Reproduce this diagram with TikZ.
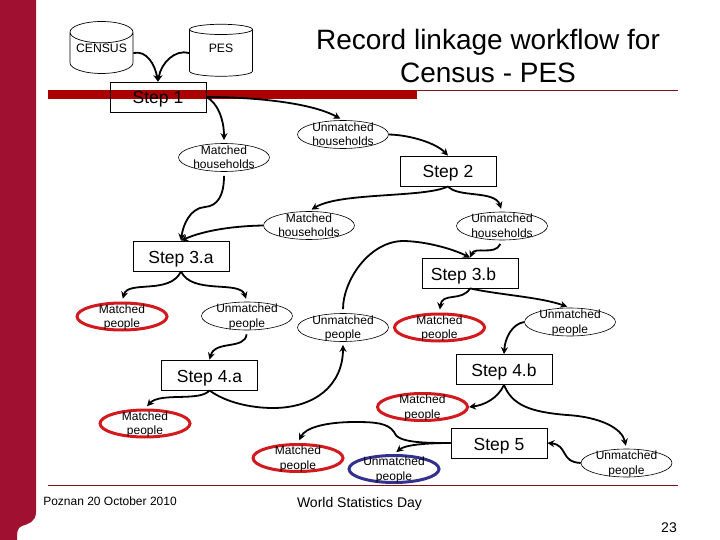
\documentclass[tikz,border=0pt]{standalone}
\usepackage{fontspec}
\setmainfont{Liberation Sans}
\usetikzlibrary{shapes.geometric, arrows.meta}
\definecolor{sidered}{RGB}{160,16,48}
\definecolor{barred}{RGB}{170,0,0}
\definecolor{linered}{RGB}{130,20,30}
\definecolor{ringred}{RGB}{210,25,30}
\definecolor{ringblue}{RGB}{50,50,140}
\def\two#1#2{\smash{\raisebox{-4pt}{\begin{tabular}{@{}c@{}}#1\\#2\end{tabular}}}}
\def\mid#1{\smash{\raisebox{0.5pt}{#1}}}
\tikzset{
  stepbox/.style={draw, line width=0.8pt, minimum width=96pt, minimum height=30pt, inner sep=0pt, text height=14pt, text depth=0pt, font=\fontsize{17.5}{18}\selectfont},
  oval/.style={draw, ellipse, line width=0.6pt, minimum width=91pt, minimum height=28pt, inner sep=0pt, font=\fontsize{12}{14.4}\selectfont},
  redoval/.style={oval, draw=ringred, line width=3pt, minimum width=90pt, minimum height=27pt},
  blueoval/.style={oval, draw=ringblue, line width=3pt, minimum width=90pt, minimum height=27pt},
  store/.style={draw, cylinder, shape border rotate=90, aspect=0.42, line width=0.7pt, minimum width=63pt, minimum height=52pt, inner sep=0pt, font=\fontsize{12.2}{14}\selectfont},
  link/.style={line width=1.8pt, -{Stealth[length=7pt,width=7pt]}},
  gap/.style={link, shorten >=3pt},
  leave/.style={shorten <=4pt}
}
\begin{document}
\begin{tikzpicture}[x=1pt,y=-1pt]
  \useasboundingbox (0,0) rectangle (720,540);
  % page furniture
  \fill[sidered] (0,0) -- (36,0) -- (36,512) .. controls (36,522) and (28,524) .. (22,526)
    .. controls (17,528) and (17,532) .. (17,540) -- (0,540) -- cycle;
  \fill[barred] (48,90) rectangle (417,99.5);
  \draw[linered, line width=0.7pt] (417,90.3) -- (678,90.3);
  \draw[linered, line width=0.7pt] (48,485.3) -- (678,485.3);
  \node[font=\fontsize{28}{33}\selectfont, align=center, inner sep=0pt] (title) at (488,56) {Record linkage workflow for\\Census - PES};
  \node[font=\fontsize{12}{14}\selectfont, inner sep=0pt] (place) at (110,501.5) {Poznan 20 October 2010};
  \node[font=\fontsize{14}{16}\selectfont, inner sep=0pt] (day) at (359.5,504) {World Statistics Day};
  \node[font=\fontsize{14}{16}\selectfont, inner sep=0pt] (page) at (669,528) {23};

  % sources
  \node[store] (census) at (101.5,53) {\mid{CENSUS}};
  \node[store] (pes) at (221,53) {\mid{PES}};

  % steps
  \foreach \n/\x/\y/\t in {s1/158/97/Step 1, s2/448/171/Step 2, s3a/181/256/Step 3.a,
      s3b/470/273/Step 3.b\kern13pt, s4a/209.5/375/Step 4.a, s4b/504/369.5/Step 4.b, s5/499/443/Step 5}{
    \node[stepbox] (\n) at (\x,\y) {\t};
  }

  % households
  \foreach \n/\x/\y/\a/\b in {mh1/224/157.5/Matched/households, uh1/343/134.5/Unmatched/households,
      mh2/309/225.5/Matched/households, uh2/502/226/Unmatched/households,
      up1/247/316/Unmatched/people, up2/343/327.5/Unmatched/people,
      up3/570/322/Unmatched/people, up4/626.5/463/Unmatched/people}{
    \node[oval] (\n) at (\x,\y) {\two{\a}{\b}};
  }
  \foreach \n/\x/\y in {mp1/122/316.5, mp2/439.5/327.5, mp3/145/423.5, mp4/298/458, mp5/422.5/407}{
    \node[redoval] (\n) at (\x,\y) {\two{Matched}{people}};
  }
  \node[blueoval] (up5) at (394,469) {\two{Unmatched}{people}};

  % connectors
  \draw[link] (census.east) .. controls (147,50) and (155,65) .. (s1.north);
  \draw[link] (pes.west) .. controls (175,49) and (161,63) .. (s1.north);
  \draw[gap] (s1.east) .. controls (218,103) and (224,120) .. (mh1.north);
  \draw[gap] (s1.east) .. controls (250,97) and (310,102) .. (uh1.north);
  \draw[link] (uh1.east) .. controls (410,135) and (436,143) .. (s2.north);
  \draw[link, leave] (mh1.south) .. controls (224,195) and (218,206) .. (205,207) .. controls (190,208) and (183,225) .. (s3a.north);
  \draw[link] (mh2.west) .. controls (235,226) and (205,230) .. (s3a.north);
  \draw[gap] (s2.south) .. controls (425,198) and (340,192) .. (mh2.north);
  \draw[gap] (s2.south) .. controls (458,198) and (495,190) .. (uh2.north);
  \draw[link, leave] (uh2.south) .. controls (495,256) and (475,246) .. (s3b.north);
  \draw[link, leave] (up2.north) .. controls (343,280) and (370,240) .. (405,241) .. controls (430,242) and (455,250) .. (s3b.north);
  \draw[gap] (s3a.south) .. controls (170,295) and (128,280) .. (mp1.north);
  \draw[gap] (s3a.south) .. controls (192,295) and (240,280) .. (up1.north);
  \draw[gap] (s3b.south) .. controls (462,302) and (442,292) .. (mp2.north);
  \draw[gap] (s3b.south) .. controls (500,295) and (540,297) .. (up3.north);
  \draw[link] (up3.west) .. controls (512,324) and (505,338) .. (s4b.north);
  \draw[link, leave] (up1.south) .. controls (245,350) and (215,340) .. (s4a.north);
  \draw[gap] (s4a.south) .. controls (200,402) and (160,392) .. (mp3.north);
  \draw[gap] (s4a.south) .. controls (225,402) and (250,408) .. (273,408) .. controls (315,408) and (343,385) .. (up2.south);
  \draw[link] (s4b.south) .. controls (498,398) and (485,405) .. (mp5.east);
  \draw[gap] (s4b.south) .. controls (512,405) and (530,412) .. (567,415) .. controls (600,417) and (622,428) .. (up4.north);
  \draw[link] (up4.west) .. controls (560,462) and (568,445) .. (s5.east);
  \draw[gap] (s5.west) .. controls (425,443) and (397,443) .. (394,432) .. controls (388,423) and (375,422) .. (355,422) .. controls (325,422) and (305,428) .. (mp4.north);
  \draw[gap] (s5.west) .. controls (425,443) and (405,445) .. (up5.north);
\end{tikzpicture}
\end{document}
